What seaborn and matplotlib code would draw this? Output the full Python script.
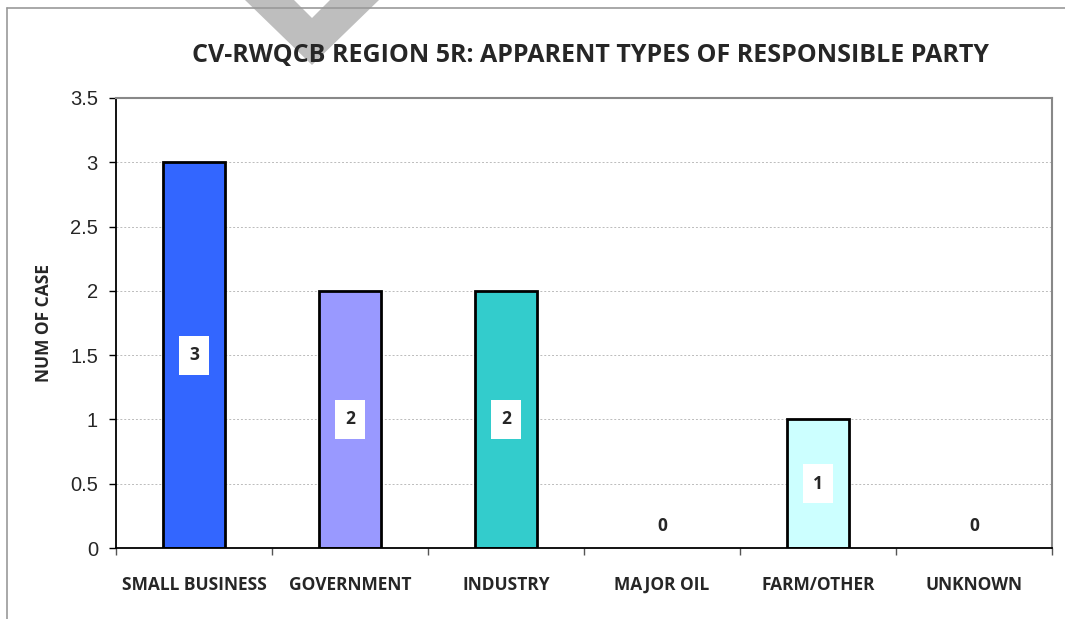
import numpy as np
import pandas as pd
import matplotlib
matplotlib.use("Agg")
import matplotlib.pyplot as plt
from matplotlib.patches import Polygon
import seaborn as sns

categories = ["SMALL BUSINESS", "GOVERNMENT", "INDUSTRY", "MAJOR OIL", "FARM/OTHER", "UNKNOWN"]
num_cases = [3, 2, 2, 0, 1, 0]
bar_colors = ["#3366FF", "#9999FF", "#33CCCC", "#FFFFFF", "#CCFFFF", "#FFFFFF"]
y_ticks = [0, 0.5, 1, 1.5, 2, 2.5, 3, 3.5]

df = pd.DataFrame({"type": categories, "cases": num_cases})

sns.set_style("white")
plt.rcParams["font.family"] = ["Liberation Sans", "DejaVu Sans"]

fig = plt.figure(figsize=(10.65, 6.19), dpi=100)
ax = fig.add_axes([0.1089, 0.1147, 0.9878 - 0.1089, 0.8417 - 0.1147])

sns.barplot(data=df, x="type", y="cases", hue="type", palette=bar_colors, saturation=1,
            width=0.4, edgecolor="black", linewidth=2, legend=False, ax=ax)

# zero bars: no outline
for patch, v in zip(ax.patches, num_cases):
    if v == 0:
        patch.set_linewidth(0)

ax.set_ylim(0, 3.5)
ax.set_xlim(-0.5, len(categories) - 0.5)
ax.set_yticks(y_ticks)
ax.set_yticklabels(["0", "0.5", "1", "1.5", "2", "2.5", "3", "3.5"], fontsize=14.5)
ax.tick_params(axis="y", length=5, width=1, color="black", pad=8, left=True)
ax.set_xticks(range(len(categories)))
ax.set_xticklabels(categories, fontsize=12.5, fontweight="bold", family="Open Sans",
                   va="baseline")
ax.set_xticks(np.arange(-0.5, len(categories)), minor=True)
ax.tick_params(axis="x", which="major", length=0, pad=30)
ax.tick_params(axis="x", which="minor", length=5, width=1, color="#555555", bottom=True)

ax.yaxis.grid(True, color="#BBBBBB", linestyle=(0, (2, 2)), linewidth=0.7)
ax.set_axisbelow(True)
for g in ax.get_ygridlines()[:1] + ax.get_ygridlines()[-1:]:
    g.set_visible(False)

ax.spines["left"].set_color("black")
ax.spines["bottom"].set_color("black")
ax.spines["left"].set_linewidth(1.3)
ax.spines["bottom"].set_linewidth(1.3)
ax.spines["top"].set_color("#888888")
ax.spines["right"].set_color("#888888")
ax.spines["top"].set_linewidth(1.5)
ax.spines["right"].set_linewidth(1.5)

ax.set_xlabel("")
ax.set_ylabel("NUM OF CASE", fontsize=12.5, fontweight="bold", family="Open Sans", labelpad=12)

# value labels
for i, v in enumerate(num_cases):
    if v > 0:
        ax.text(i, v / 2, str(v), ha="center", va="center", fontsize=12.5,
                fontweight="bold", family="Open Sans",
                bbox=dict(facecolor="white", edgecolor="none", boxstyle="square,pad=0.6"))
    else:
        ax.annotate(str(v), (i, 0), xytext=(0, 16), textcoords="offset points",
                    ha="center", va="center", fontsize=12.5, fontweight="bold", family="Open Sans")

fig.text(0.554, 0.911, "CV-RWQCB REGION 5R: APPARENT TYPES OF RESPONSIBLE PARTY",
         ha="center", va="center", fontsize=18, fontweight="bold", family="Open Sans")

# outer chart frame
W, H = 1065, 619
fig.add_artist(plt.Line2D([7 / W, 1], [1 - 8 / H, 1 - 8 / H], transform=fig.transFigure,
                          color="#999999", linewidth=1.2))
fig.add_artist(plt.Line2D([7 / W, 7 / W], [0, 1 - 8 / H], transform=fig.transFigure,
                          color="#999999", linewidth=1.2))

# grey chevron overlay at top
pts = [(245, 0), (312, 65), (379, 0), (330, 0), (312, 18), (294, 0)]
fig.add_artist(Polygon([(x / W, 1 - y / H) for x, y in pts], closed=True,
                       transform=fig.transFigure, facecolor="#BEBEBE", edgecolor="none",
                       zorder=-1))

fig.savefig("out.png", dpi=100)
